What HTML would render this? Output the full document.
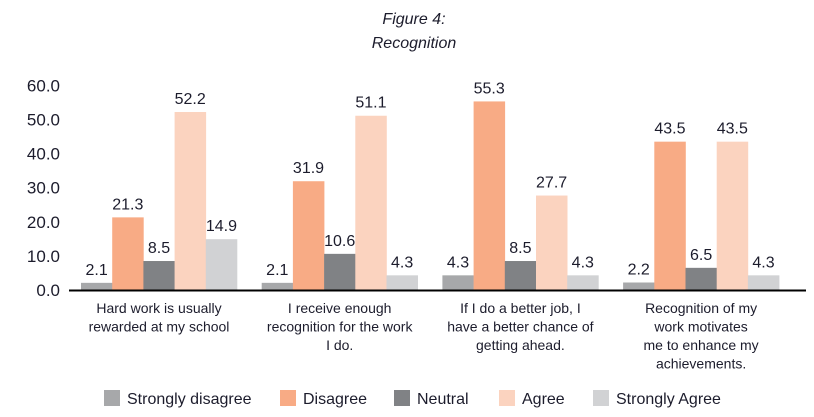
<!DOCTYPE html>
<html><head><meta charset="utf-8"><style>
html,body{margin:0;padding:0;background:#fff;}
svg{display:block;font-family:"Liberation Sans",sans-serif;}
</style></head><body>
<svg id="chart" width="814" height="417" viewBox="0 0 814 417" xmlns="http://www.w3.org/2000/svg">
<text x="414" y="24" text-anchor="middle" font-style="italic" font-size="16" fill="#1c1c2c">Figure 4:</text>
<text x="414" y="48" text-anchor="middle" font-style="italic" font-size="16" fill="#1c1c2c">Recognition</text>
<g id="yaxis"></g>
<g id="bars"></g>
<g id="xlabels"></g>
<g id="legend"></g>
</svg>
<script>
const categories = [
  ["Hard work is usually","rewarded at my school"],
  ["I receive enough","recognition for the work","I do."],
  ["If I do a better job, I","have a better chance of","getting ahead."],
  ["Recognition of my","work motivates","me to enhance my","achievements."]
];
const seriesNames = ["Strongly disagree","Disagree","Neutral","Agree","Strongly Agree"];
const stronglyDisagree = [2.1, 2.1, 4.3, 2.2];
const disagree = [21.3, 31.9, 55.3, 43.5];
const neutral = [8.5, 10.6, 8.5, 6.5];
const agree = [52.2, 51.1, 27.7, 43.5];
const stronglyAgree = [14.9, 4.3, 4.3, 4.3];
const yTicks = [0, 10, 20, 30, 40, 50, 60];

const series = [stronglyDisagree, disagree, neutral, agree, stronglyAgree];
const colors = ["#a7a8aa","#f8ab85","#808285","#fbd3bf","#d1d2d4"];
const NS = "http://www.w3.org/2000/svg";
const y0 = 290, pxPerUnit = 3.41;
const y = v => y0 - v * pxPerUnit;
const groupStart = 81, groupStep = 180.7, barW = 31.2;
const x = (g, s) => groupStart + g * groupStep + s * barW;
function mk(tag, attrs, parent) {
  const el = document.createElementNS(NS, tag);
  for (const k in attrs) el.setAttribute(k, attrs[k]);
  parent.appendChild(el);
  return el;
}
const yaxis = document.getElementById('yaxis');
yTicks.forEach(t => {
  const tx = mk('text', {x: 60, y: y(t) + 6, 'text-anchor': 'end', 'font-size': 17, fill: '#1c1c2c'}, yaxis);
  
  
  tx.textContent = t.toFixed(1);
});
const bars = document.getElementById('bars');
series.forEach((arr, s) => {
  arr.forEach((v, g) => {
    const r = mk('rect', {x: x(g, s), y: y(v), width: barW + 0.3, height: y0 - y(v), fill: colors[s]}, bars);
    
    
    const t = mk('text', {x: x(g, s) + barW / 2, y: y(v) - 8, 'text-anchor': 'middle', 'font-size': 16, fill: '#1c1c2c'}, bars);
    
    
    t.textContent = v.toFixed(1);
  });
});
const axisLine = mk('line', {x1: 69, x2: 806, y1: y0 + 0.5, y2: y0 + 0.5, stroke: '#000', 'stroke-width': 2}, bars);


const xl = document.getElementById('xlabels');
categories.forEach((lines, g) => {
  const cx = x(g, 0) + barW * 2.5;
  lines.forEach((ln, i) => {
    const t = mk('text', {x: cx, y: 313 + i * 18.5, 'text-anchor': 'middle', 'font-size': 14, fill: '#1c1c2c'}, xl);
    
    
    t.textContent = ln;
  });
});
const legend = document.getElementById('legend');
const legendX = [104, 280, 394, 499, 593];
seriesNames.forEach((n, i) => {
  const r = mk('rect', {x: legendX[i], y: 390, width: 16, height: 16, fill: colors[i]}, legend);
  
  
  const t = mk('text', {x: legendX[i] + 23, y: 404, 'font-size': 16, fill: '#1c1c2c'}, legend);
  
  
  t.textContent = n;
});
</script>
</body></html>
